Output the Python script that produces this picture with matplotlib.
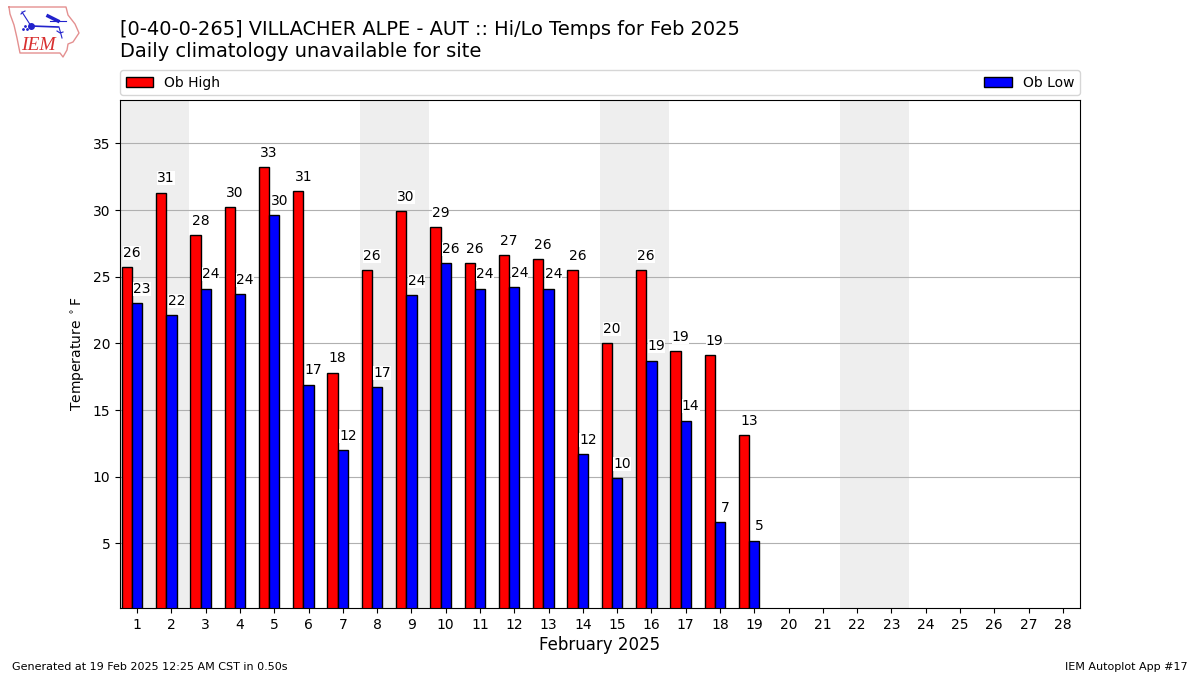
import matplotlib
matplotlib.use("Agg")
import matplotlib.pyplot as plt
from matplotlib.transforms import ScaledTranslation
import numpy as np

days = np.arange(1, 20)
highs = [25.7, 31.3, 28.1, 30.2, 33.2, 31.4, 17.8, 25.5, 29.9, 28.7,
         26.0, 26.6, 26.3, 25.5, 20.0, 25.5, 19.4, 19.1, 13.1]
lows = [23.0, 22.1, 24.1, 23.7, 29.6, 16.9, 12.0, 16.7, 23.6, 26.0,
        24.1, 24.2, 24.1, 11.7, 9.9, 18.7, 14.2, 6.6, 5.2]
weekends = [1, 8, 15, 22]
all_days = np.arange(1, 29)
y_ticks = [5, 10, 15, 20, 25, 30, 35]

title = "[0-40-0-265] VILLACHER ALPE - AUT :: Hi/Lo Temps for Feb 2025"
subtitle = "Daily climatology unavailable for site"

fig = plt.figure(figsize=(12, 6.75), dpi=100)
ax = fig.add_axes([0.1, 0.0993, 0.8, 0.7526])

for d in weekends:
    ax.axvspan(d - 0.5, d + 1.5, color="#eeeeee", lw=0, zorder=1)

ax.bar(days - 0.3, highs, width=0.3, color="red", edgecolor="k", label="Ob High", zorder=2)
ax.bar(days, lows, width=0.3, color="blue", edgecolor="k", label="Ob Low", zorder=2)
ax.grid(axis="y", color="#b0b0b0", lw=0.8)
for line in ax.get_ygridlines():
    line.set_zorder(3)

# Beschriftung ueber den Balken
white = dict(facecolor="white", edgecolor="none", pad=0)
shift = ax.transData + ScaledTranslation(0.05, 0, fig.dpi_scale_trans)
for d, hi, lo in zip(days, highs, lows):
    ax.text(d - 0.3, hi + 0.55, f"{hi:.0f}", ha="center", va="bottom", fontsize=10, bbox=white, zorder=4, transform=shift)
    ax.text(d, lo + 0.55, f"{lo:.0f}", ha="center", va="bottom", fontsize=10, bbox=white, zorder=4, transform=shift)

ax.set_xlim(0.5, 28.5)
ax.set_ylim(0.16, 38.26)
ax.set_xticks(all_days)
ax.set_yticks(y_ticks)
ax.tick_params(labelsize=10)
ax.set_xlabel("February 2025", fontsize=12, labelpad=3)
ax.set_ylabel(r"Temperature $^\circ$F", fontsize=10)
ax.legend(loc="lower left", bbox_to_anchor=(0, 1.0095, 1, 0.05), mode="expand", ncol=2,
          borderaxespad=0, fontsize=10)

fig.text(0.1, 0.9565, title, fontsize=13.98, va="center")
fig.text(0.1, 0.9235, subtitle, fontsize=13.98, va="center")
fig.text(0.01, 0.0125, "Generated at 19 Feb 2025 12:25 AM CST in 0.50s", fontsize=8, va="center")
fig.text(0.99, 0.0125, "IEM Autoplot App #17", fontsize=8, ha="right", va="center")

# Logo: Umriss plus Wetterstation, in Pixeln des Logos
logo = fig.add_axes([0, 0.9, 0.08, 0.1])
logo.set_xlim(0, 96)
logo.set_ylim(67.5, 0)
logo.axis("off")
outline_x = [9, 66, 68, 75, 79, 73, 68, 67, 63, 60, 20, 17, 14, 10, 9]
outline_y = [7, 7, 15, 24, 33, 42, 44, 50, 57, 53, 53, 38, 25, 14, 7]
logo.plot(outline_x, outline_y, color="#e49090", lw=1)
logo.plot([31, 58], [26, 27], color="#2222cc", lw=1.2)
logo.plot([31], [26], "o", color="#2222cc", ms=4)
logo.plot([22, 31], [12, 26], color="#2222cc", lw=0.8)
logo.plot([21, 23, 25], [14, 12, 11], color="#2222cc", lw=0.8)
logo.plot([48, 58], [16, 21], color="#2222cc", lw=2.5)
logo.plot([50, 66], [21, 21], color="#2222cc", lw=0.8)
logo.plot([59, 62], [27, 38], color="#2222cc", lw=0.8)
logo.plot([57, 60, 63], [31, 33, 32], color="#2222cc", lw=0.8)
logo.plot([23, 25, 27], [29, 26, 29], ".", color="#2222cc", ms=2)
logo.text(21, 45, "IEM", family="Liberation Serif", style="italic", color="#d83030", fontsize=14, va="center")

plt.savefig("out.png", dpi=100)
plt.close()
